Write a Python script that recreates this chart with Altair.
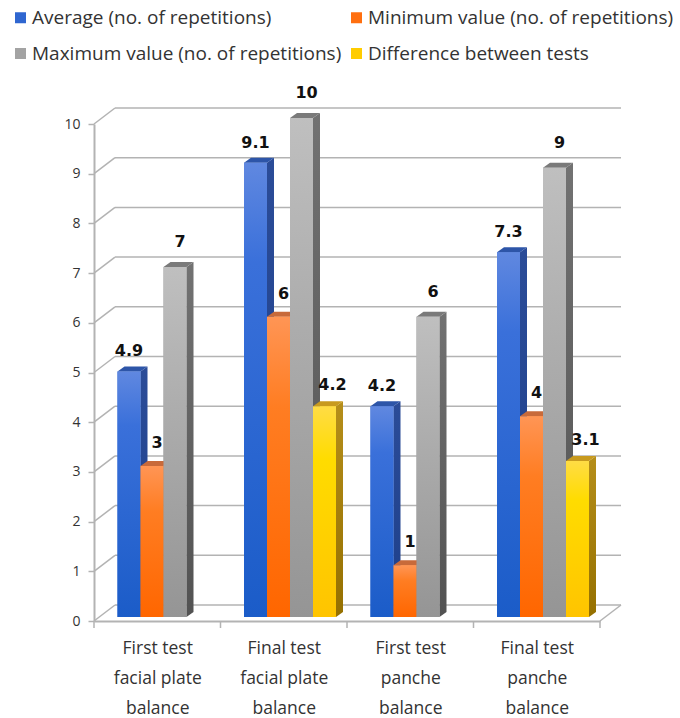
import json
import altair as alt
import pandas as pd

categories = [
    "First test|facial plate|balance",
    "Final test|facial plate|balance",
    "First test|panche|balance",
    "Final test|panche|balance",
]
series = [
    "Average (no. of repetitions)",
    "Minimum value (no. of repetitions)",
    "Maximum value (no. of repetitions)",
    "Difference between tests",
]
average = [4.9, 9.1, 4.2, 7.3]
minimum = [3, 6, 1, 4]
maximum = [7, 10, 6, 9]
difference = [None, 4.2, None, 3.1]
values = [average, minimum, maximum, difference]

flat_colors = ["#2f66d0", "#ff6f0f", "#a3a3a3", "#ffcc00"]
front_stops = [
    [("#6088e0", 0), ("#3a70da", 0.22), ("#1b5cc8", 1)],
    [("#ff9555", 0), ("#ff7d22", 0.3), ("#ff6600", 1)],
    [("#bfbfbf", 0), ("#adadad", 0.4), ("#959595", 1)],
    [("#ffdc45", 0), ("#ffdc00", 0.25), ("#ffc400", 1)],
]
side_stops = [
    [("#2b4c98", 0), ("#1d3f8a", 1)],
    [("#b85a18", 0), ("#a84f10", 1)],
    [("#727272", 0), ("#525252", 1)],
    [("#b58e1a", 0), ("#957000", 1)],
]
top_colors = ["#2d55a8", "#c86a3a", "#7a7a7a", "#c89a1e"]
label_dx = [0, 5, 5, 8]
label_lift = [20, 23, 25, 21]

# Pixel sizes of the plot and the pseudo-3D box, turned into data units below
WIDTH, HEIGHT = 506, 497
GROUP_PX = WIDTH / 4
UNIT_PX = HEIGHT / 10
to_x = lambda px: px / GROUP_PX
to_y = lambda px: px / UNIT_PX

WALL_X, WALL_Y = to_x(21), to_y(16)
BAR_START, BAR_W = to_x(23.5), to_x(23)
SIDE_X, SIDE_Y = to_x(7), to_y(5)
BASE_LIFT, TOP_LIFT = to_y(4), to_y(6)
GRID = "#b3b3b3"
FONT = "Open Sans"
ticks = list(range(11))

x_scale = alt.Scale(domain=[0, 4], nice=False, zero=False)
y_scale = alt.Scale(domain=[0, 10], nice=False, zero=False)

# The category labels sit mid-group; group separators are drawn as short rules
label_expr = "split(" + json.dumps(categories) + "[floor(datum.value)], '|')"
x_axis = alt.Axis(
    values=[0.5, 1.5, 2.5, 3.5], ticks=False, grid=False, labelExpr=label_expr,
    labelFont=FONT, labelFontSize=17.5, labelColor="#333333", labelPadding=27,
    labelLineHeight=30, labelOverlap=False, labelFlush=False, labelBaseline="middle",
    domainColor=GRID, domainWidth=2, title=None,
)
y_axis = alt.Axis(
    values=ticks, grid=False, tickColor=GRID, tickSize=6, tickWidth=1.5,
    labelFont=FONT, labelFontSize=14, labelColor="#333333", labelPadding=8,
    domainColor=GRID, domainWidth=2, title=None,
)
X = lambda f="x": alt.X(f"{f}:Q", scale=x_scale, axis=x_axis)
Y = lambda f="y": alt.Y(f"{f}:Q", scale=y_scale, axis=y_axis)


def gradient(stops):
    return alt.Gradient(
        gradient="linear", x1=0, y1=0, x2=0, y2=1,
        stops=[alt.GradientStop(color=c, offset=o) for c, o in stops],
    )


# Back wall and floor: one rule per tick plus the diagonal running to the wall
wall = pd.DataFrame({"x": WALL_X, "x2": 4 + WALL_X, "y": [t + WALL_Y for t in ticks]})
diag = pd.DataFrame(
    [{"t": t, "x": d * WALL_X, "y": t + d * WALL_Y} for t in ticks for d in (0, 1)]
    + [{"t": 99, "x": 4 + d * WALL_X, "y": d * WALL_Y} for d in (0, 1)]
)
wall_layer = alt.Chart(wall).mark_rule(color=GRID, strokeWidth=1.5).encode(
    x=X(), x2="x2:Q", y=Y()
)
diag_layer = alt.Chart(diag).mark_line(color=GRID, strokeWidth=1.5).encode(
    x=X(), y=Y(), detail="t:N"
)
separators = pd.DataFrame({"x": range(5), "y": 0.0, "y2": -to_y(7)})
sep_layer = alt.Chart(separators).mark_rule(color=GRID, strokeWidth=1.5).encode(
    x=X(), y=Y(), y2="y2:Q"
)

# Bar geometry per series, in data units
fronts, sides, tops, labels = [], [], [], []
for s, name in enumerate(series):
    for g, v in enumerate(values[s]):
        if v is None:
            continue
        left = g + BAR_START + s * BAR_W
        right = left + BAR_W
        top = v + TOP_LIFT
        fronts.append({"series": name, "s": s, "x": left, "x2": right,
                       "y": top, "y2": BASE_LIFT})
        for d in (0, 1):
            sides.append({"s": s, "g": g, "x": right + d * SIDE_X,
                          "y": top + d * SIDE_Y, "y2": BASE_LIFT + d * SIDE_Y})
        for px, lo, hi in (
            (left, top, top),
            (left + SIDE_X, top, top + SIDE_Y),
            (right, top, top + SIDE_Y),
            (right + SIDE_X, top + SIDE_Y, top + SIDE_Y),
        ):
            tops.append({"s": s, "g": g, "x": px, "y": hi, "y2": lo})
        labels.append({"s": s, "x": (left + right) / 2, "y": top, "value": v})
fronts, sides, tops, labels = map(pd.DataFrame, (fronts, sides, tops, labels))

# Flat underlay: carries the colour legend beneath the gradient faces
under_layer = alt.Chart(fronts).mark_bar(strokeWidth=0).encode(
    x=X(), x2="x2:Q", y=Y(), y2="y2:Q",
    color=alt.Color(
        "series:N",
        sort=series,
        scale=alt.Scale(domain=series, range=flat_colors),
        legend=alt.Legend(
            title=None, orient="none", legendX=-83, legendY=-116, columns=2,
            direction="horizontal",
            symbolType="square", symbolSize=121, symbolStrokeWidth=0,
            labelFont=FONT, labelFontSize=19, labelColor="#333333", labelLimit=400,
            labelOffset=2, rowPadding=16, columnPadding=5,
        ),
    ),
)

bar_layers = []
for s in range(len(series)):
    side = alt.Chart(sides[sides.s == s]).mark_area(
        orient="vertical", color=gradient(side_stops[s])
    ).encode(x=X(), y=Y(), y2="y2:Q", detail="g:N")
    cap = alt.Chart(tops[tops.s == s]).mark_area(
        orient="vertical", color=top_colors[s]
    ).encode(x=X(), y=Y(), y2="y2:Q", detail="g:N")
    front = alt.Chart(fronts[fronts.s == s]).mark_bar(
        color=gradient(front_stops[s]), strokeWidth=0
    ).encode(x=X(), x2="x2:Q", y=Y(), y2="y2:Q")
    bar_layers += [side, cap, front]

label_layers = [
    alt.Chart(labels[labels.s == s]).mark_text(
        font="DejaVu Sans", fontWeight="bold", fontSize=16, color="#111111",
        dx=label_dx[s], dy=-label_lift[s],
    ).encode(x=X(), y=Y(), text=alt.Text("value:Q"))
    for s in range(len(series))
]

chart = alt.layer(
    wall_layer, diag_layer, sep_layer, under_layer,
    *bar_layers, *label_layers,
).properties(
    width=WIDTH, height=HEIGHT,
    autosize=alt.AutoSizeParams(type="none"),
    padding={"left": 94, "top": 124, "right": 80, "bottom": 97},
    background="white",
).configure_view(stroke=None)

chart.save("out.html", embed_options={"renderer": "svg", "actions": False})
